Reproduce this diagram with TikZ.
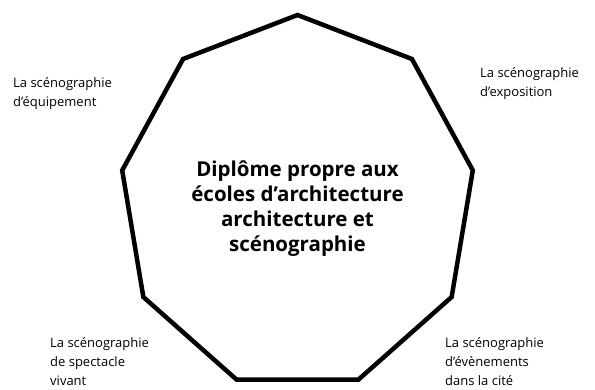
\documentclass[tikz,border=0pt]{standalone}
\usepackage{fontspec}
\setmainfont{Open Sans}
\begin{document}
\begin{tikzpicture}[x=1pt,y=-1pt,
    side/.style={align=left,anchor=north west,inner sep=0pt,
      font=\fontsize{13}{19}\selectfont},
    centre/.style={align=center,font=\bfseries\fontsize{20.5}{25}\selectfont}]
  \useasboundingbox (0,0) rectangle (595,389);
  % corners of the nine-sided frame
  \foreach \i in {0,...,8}
    \coordinate (v\i) at ({297.5+178*cos(90-40*\i)},{203-188*sin(90-40*\i)});
  \draw[line width=4.5pt]
    (v0) -- (v1) -- (v2) -- (v3) -- (v4) -- (v5) -- (v6) -- (v7) -- (v8) -- cycle;
  \node[centre] (diplome) at (297.5,209)
    {Diplôme propre aux\\écoles d’architecture\\architecture et\\scénographie};
  \node[side] (equipement) at (13,77) {La scénographie\\d’équipement};
  \node[side] (exposition) at (480,67) {La scénographie\\d’exposition};
  \node[side] (spectacle) at (50,337) {La scénographie\\de spectacle\\vivant};
  \node[side] (evenements) at (445,337) {La scénographie\\d’évènements\\dans la cité};
\end{tikzpicture}
\end{document}
